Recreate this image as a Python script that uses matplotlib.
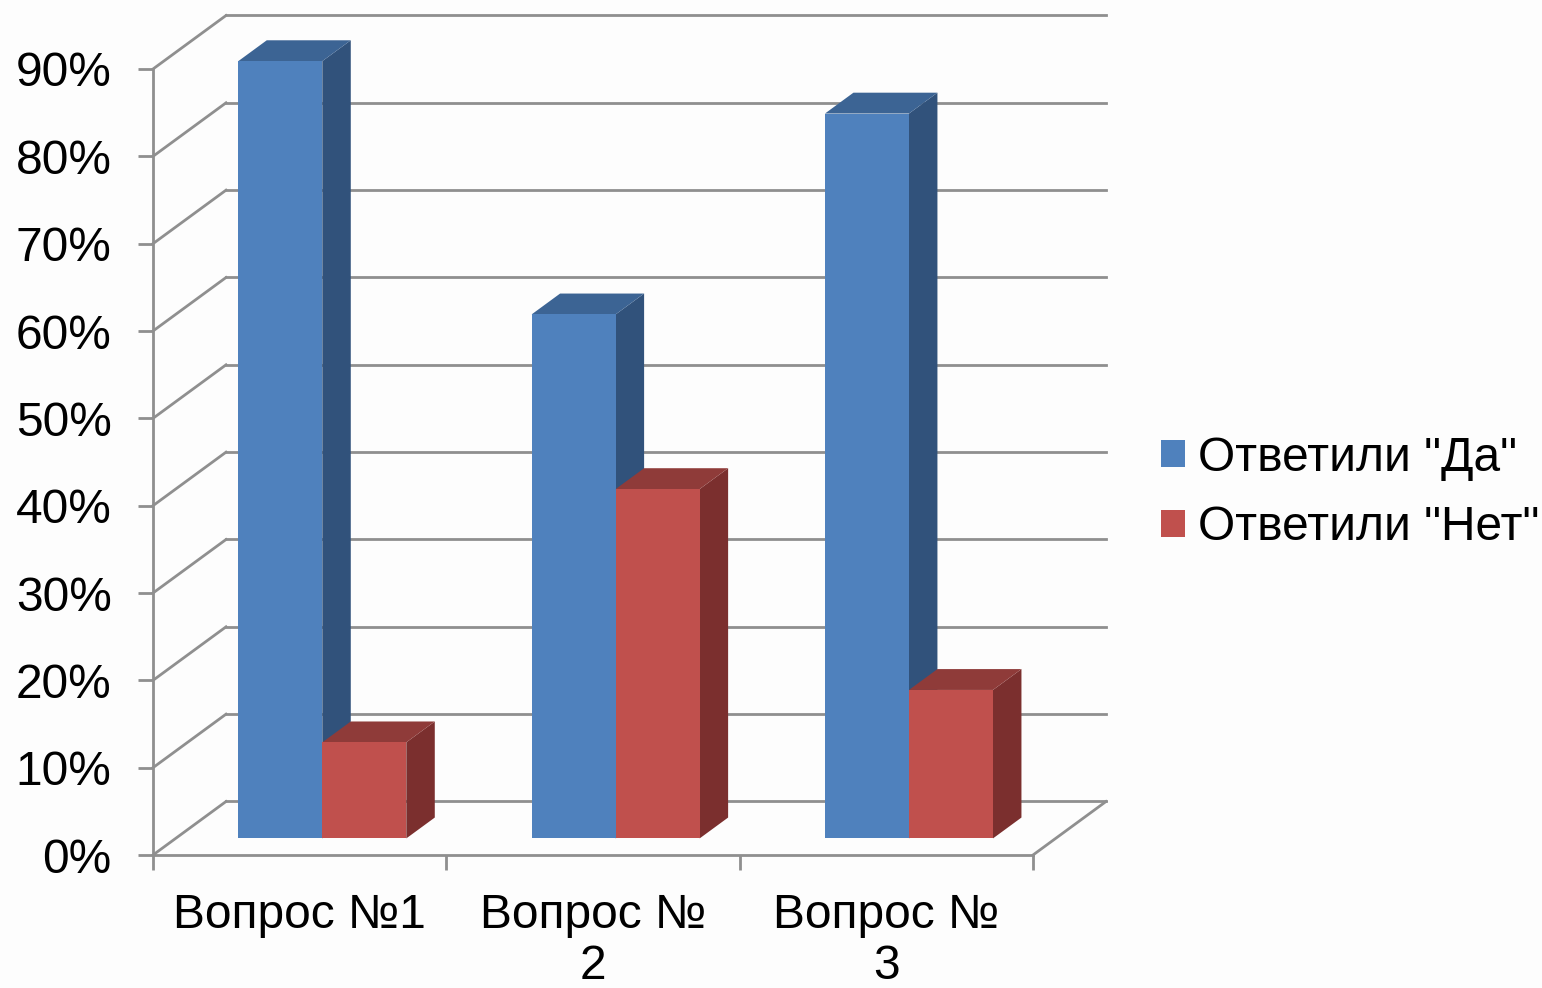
import matplotlib
matplotlib.use("Agg")
import matplotlib.pyplot as plt
from matplotlib.patches import Patch, Polygon

questions = ['Вопрос №1', 'Вопрос №\n2', 'Вопрос №\n3']
yes_values = [89, 60, 83]
no_values = [11, 40, 17]
y_ticks = [0, 10, 20, 30, 40, 50, 60, 70, 80, 90]

W, H = 1542, 988
GRID = '#8f8f8f'

# full depth of the chart box, in data units (x: categories, y: percent)
DEPTH_X = 73 / 293.3
DEPTH_Y = 53.5 / 8.733
BAR_W = 84 / 293.3


def project(x, y, d):
    return (x + d * DEPTH_X, y + d * DEPTH_Y)


def bar3d(ax, x0, x1, h, front, top, side):
    d0, d1 = 0.31, 0.70
    quads = [
        ([(x1, 0, d0), (x1, 0, d1), (x1, h, d1), (x1, h, d0)], side),
        ([(x0, h, d0), (x1, h, d0), (x1, h, d1), (x0, h, d1)], top),
        ([(x0, 0, d0), (x1, 0, d0), (x1, h, d0), (x0, h, d0)], front),
    ]
    for pts, color in quads:
        ax.add_patch(Polygon([project(*p) for p in pts], closed=True, facecolor=color,
                             edgecolor='none', clip_on=False, zorder=3))


plt.rcParams['font.family'] = ['Liberation Sans', 'DejaVu Sans']
fig = plt.figure(figsize=(W / 100, H / 100), dpi=100, facecolor='#fdfdfd')
ax = fig.add_axes([153 / W, 1 - 855 / H, 880 / W, 786 / H])
ax.patch.set_alpha(0)
ax.set_xlim(0, 3)
ax.set_ylim(0, 90)

# side wall and back wall lines
for v in y_ticks:
    front = project(0, v, 0)
    back = project(0, v, 1)
    right = project(3, v, 1)
    ax.plot([front[0], back[0]], [front[1], back[1]], color=GRID, lw=2, clip_on=False, zorder=1)
    ax.plot([back[0], right[0]], [back[1], right[1]], color=GRID, lw=2, clip_on=False, zorder=1)
# floor edge on the right
a, b = project(3, 0, 0), project(3, 0, 1)
ax.plot([a[0], b[0]], [a[1], b[1]], color=GRID, lw=2, clip_on=False, zorder=1)

for i in range(len(questions)):
    left = i + 0.5 - BAR_W
    bar3d(ax, left, i + 0.5, yes_values[i], '#4f81bd', '#3c6494', '#31527b')
    bar3d(ax, i + 0.5, i + 0.5 + BAR_W, no_values[i], '#c0504d', '#8f3b39', '#7b2f2e')

for s in ['top', 'right']:
    ax.spines[s].set_visible(False)
for s in ['left', 'bottom']:
    ax.spines[s].set_color(GRID)
    ax.spines[s].set_linewidth(2)

ax.set_yticks(y_ticks)
ax.set_yticklabels([f'{v}%' for v in y_ticks])
ax.set_xticks([0, 1, 2, 3])
ax.set_xticklabels([])
ax.set_xticks([0.5, 1.5, 2.5], minor=True)
ax.set_xticklabels(questions, minor=True, linespacing=1.18)
ax.tick_params(axis='y', length=10.8, width=2, color=GRID, pad=19, labelsize=34.5)
ax.tick_params(axis='x', which='major', length=10.8, width=2, color=GRID)
ax.tick_params(axis='x', which='minor', length=0, pad=27, labelsize=34.5)

handles = [Patch(facecolor='#4f81bd', label='Ответили "Да"'),
           Patch(facecolor='#c0504d', label='Ответили "Нет"')]
fig.legend(handles=handles, loc='center left', bbox_to_anchor=(1161 / W, 1 - 493 / H),
           frameon=False, fontsize=34.5, handlelength=0.5, handleheight=0.5,
           handletextpad=0.27, labelspacing=0.52, borderpad=0, borderaxespad=0)

fig.savefig('out.png', dpi=100, facecolor=fig.get_facecolor())
